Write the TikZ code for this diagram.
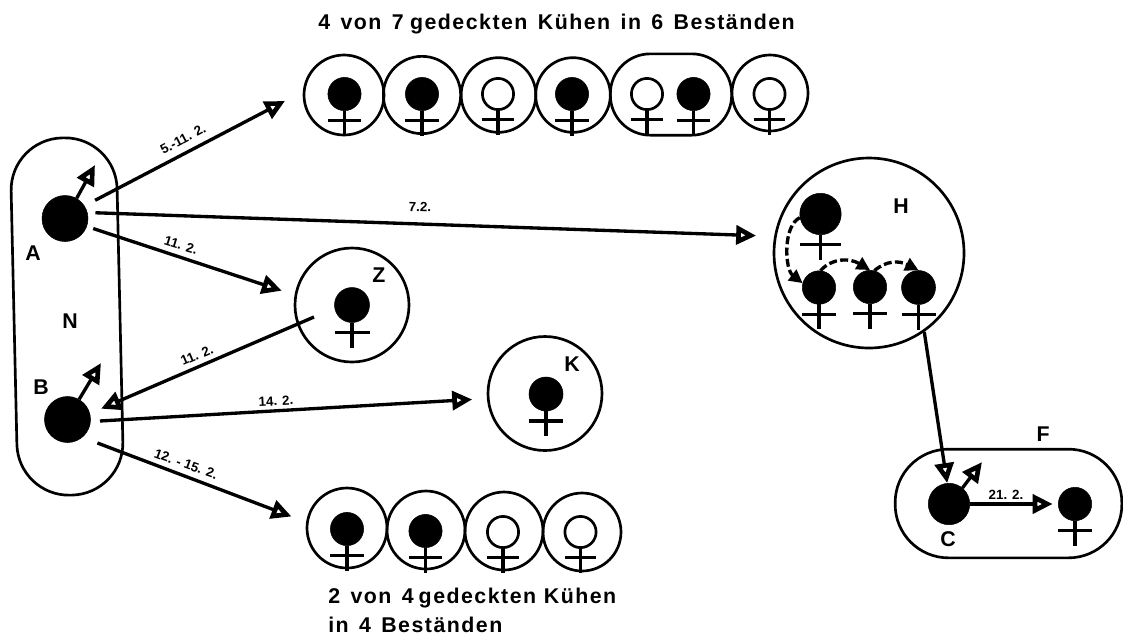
\documentclass[tikz,border=0pt]{standalone}
\usepackage{fontspec}
\setmainfont{Liberation Sans}
\newfontfamily\titelfont[LetterSpace=7,WordSpace=1.4]{Liberation Sans}
\usetikzlibrary{arrows.meta}

% symbol: head, crossbar, stem
\newcommand{\kuh}[5]{
   \node[#5, minimum size=#4*1.5pt] (#1) at (#2,#3) {};
   \draw[kuhlinie] (#2-#4,#3+#4+10) -- (#2+#4,#3+#4+10);
   \draw[kuhlinie] (#1) -- (#2,#3+#4+25);
}

\begin{document}
\begin{tikzpicture}[x=0.75pt,y=-0.75pt,
    voll/.style ={circle, draw, fill=black, inner sep=0pt},
    offen/.style ={circle, draw, fill=white, line width=2pt, inner sep=0pt},
    kuhlinie/.style ={line width=2.5pt},
    hof/.style ={circle, draw, line width=2pt, inner sep=0pt},
    gruppe/.style ={rectangle, draw, line width=2pt, inner sep=0pt},
    pfeil/.style ={line width=2.5pt, -{Triangle[open, length=15pt, width=14pt, line width=3.5pt, fill=white]}},
    innen/.style ={line width=2.5pt, dash pattern=on 6pt off 2.5pt, -{Triangle[length=10pt, width=10pt]}},
    datum/.style ={font=\bfseries\fontsize{10}{10}\selectfont, inner sep=0pt},
    marke/.style ={font=\bfseries\fontsize{16}{16}\selectfont, inner sep=0pt},
    titel/.style ={font=\titelfont\bfseries\fontsize{16}{17}\selectfont, inner sep=0pt, anchor=west}]
   \useasboundingbox (0,0) rectangle (1123,637);

   % herd N
   \node[gruppe, minimum width=79.5pt, minimum height=268pt, rounded corners=39pt, rotate=1.3] (N) at (67,316.5) {};
   \node[voll, minimum size=46*0.75pt] (A) at (65,218.5) {};
   \node[voll, minimum size=46*0.75pt] (B) at (67.5,419.5) {};
   \coordinate (Aspitze) at (95,165);
   \coordinate (Bspitze) at (101,363);
   \draw[pfeil] (A.60) to (Aspitze);
   \draw[pfeil] (B.60) to (Bspitze);
   \node[marke] (labelA) at (33,253) {A};
   \node[marke] (labelB) at (41,387) {B};
   \node[marke] (labelN) at (70,321) {N};

   % upper row
   \node[titel] (titel1) at (318,24) {4 von 7\hspace{-3pt} gedeckten Kühen in 6 Beständen};
   \node[hof, minimum size=60pt] (o1) at (344,95) {};
   \node[hof, minimum size=58pt] (o2) at (422,95) {};
   \node[hof, minimum size=56pt] (o3) at (498.5,95) {};
   \node[hof, minimum size=56pt] (o4) at (573,95) {};
   \node[gruppe, minimum width=91pt, minimum height=61pt, rounded corners=30pt] (o5) at (671,94.5) {};
   \node[hof, minimum size=57pt] (o6) at (770,93) {};
   \kuh{k1}{344.5}{94}{16.6}{voll}
   \kuh{k2}{422}{94}{16.6}{voll}
   \kuh{k3}{498}{94}{15.6}{offen}
   \kuh{k4}{572}{94}{16.6}{voll}
   \kuh{k5}{647}{94}{15.6}{offen}
   \kuh{k6}{693.5}{94}{16.6}{voll}
   \kuh{k7}{769.5}{94}{15.6}{offen}

   % lower row
   \node[hof, minimum size=60pt] (u1) at (347,528) {};
   \node[hof, minimum size=58.5pt] (u2) at (426,530) {};
   \node[hof, minimum size=58.5pt] (u3) at (504,531) {};
   \node[hof, minimum size=58.5pt] (u4) at (582,532) {};
   \kuh{m1}{347}{529}{16.6}{voll}
   \kuh{m2}{425.5}{531}{16.6}{voll}
   \kuh{m3}{503}{532}{15.6}{offen}
   \kuh{m4}{580.5}{532}{15.6}{offen}
   \node[titel] (titel2) at (328,598) {2 von 4\hspace{-4pt} gedeckten\hspace{-2pt} Kühen};
   \node[titel] (titel3) at (328,625) {in 4 Beständen};

   % Z and K
   \node[hof, minimum size=85.5pt] (Z) at (352,305) {};
   \kuh{kZ}{352}{305}{17.5}{voll}
   \node[marke] (labelZ) at (379,275) {Z};
   \node[hof, minimum size=85.5pt] (K) at (545,393.5) {};
   \kuh{kK}{546}{394}{17}{voll}
   \node[marke] (labelK) at (572,364) {K};

   % H
   \node[hof, minimum size=142.5pt] (H) at (869,253) {};
   \node[marke] (labelH) at (901,206) {H};
   \kuh{Ha}{820.5}{214}{20.7}{voll}
   \kuh{Hb}{819}{287.5}{16.7}{voll}
   \kuh{Hc}{870}{287}{16.7}{voll}
   \kuh{Hd}{918.5}{287.5}{17}{voll}
   \draw[innen] (Ha.190) .. controls +(-17,8) and +(-18,-14) .. (Hb.165);
   \draw[innen] (Hb.85) .. controls +(12,-13) and +(-20,-12) .. (Hc.90);
   \draw[innen] (Hc.75) .. controls +(12,-10) and +(-20,-10) .. (Hd.90);

   % F
   \node[gruppe, minimum width=170pt, minimum height=81.5pt, rounded corners=40pt] (F) at (1008.5,503.5) {};
   \node[voll, minimum size=41.4*0.75pt] (C) at (949,504) {};
   \kuh{kF}{1075}{504}{16.7}{voll}
   \coordinate (Cspitze) at (982,462);
   \draw[pfeil] (C.50) to (Cspitze);
   \node[marke] (labelC) at (948,539) {C};
   \node[marke] (labelF) at (1043,434) {F};

   % transmission
   \coordinate (obenein) at (285,101);
   \coordinate (untenein) at (291.5,516.5);
   \coordinate (Zaus) at (314,317);
   \draw[pfeil, shorten <=9pt] (A.33) to (obenein);
   \draw[pfeil, shorten <=6pt, shorten >=13.5pt] (A.15) to (H.170);
   \draw[pfeil, shorten <=5pt, shorten >=10pt] (A.-20) to (Z.170);
   \draw[pfeil, shorten >=9pt] (Zaus) to (B.15);
   \draw[pfeil, shorten <=7pt, shorten >=11pt] (B.-5) to (K.185);
   \draw[pfeil, shorten <=12pt] (B.-50) to (untenein);
   \draw[pfeil] (H.-55) to (C.95);
   \draw[pfeil, shorten >=4pt] (C.east) to (kF.west);

   \node[datum, rotate=28] (d1) at (183,139) {5.-11. 2.};
   \node[datum, rotate=-2] (d2) at (420,207) {7.2.};
   \node[datum, rotate=-17] (d3) at (181,245) {11. 2.};
   \node[datum, rotate=23] (d4) at (197,355) {11. 2.};
   \node[datum, rotate=3] (d5) at (276,401) {14. 2.};
   \node[datum, rotate=-20] (d6) at (186,464) {12. - 15. 2.};
   \node[datum] (d7) at (1006,495) {21. 2.};
\end{tikzpicture}
\end{document}
